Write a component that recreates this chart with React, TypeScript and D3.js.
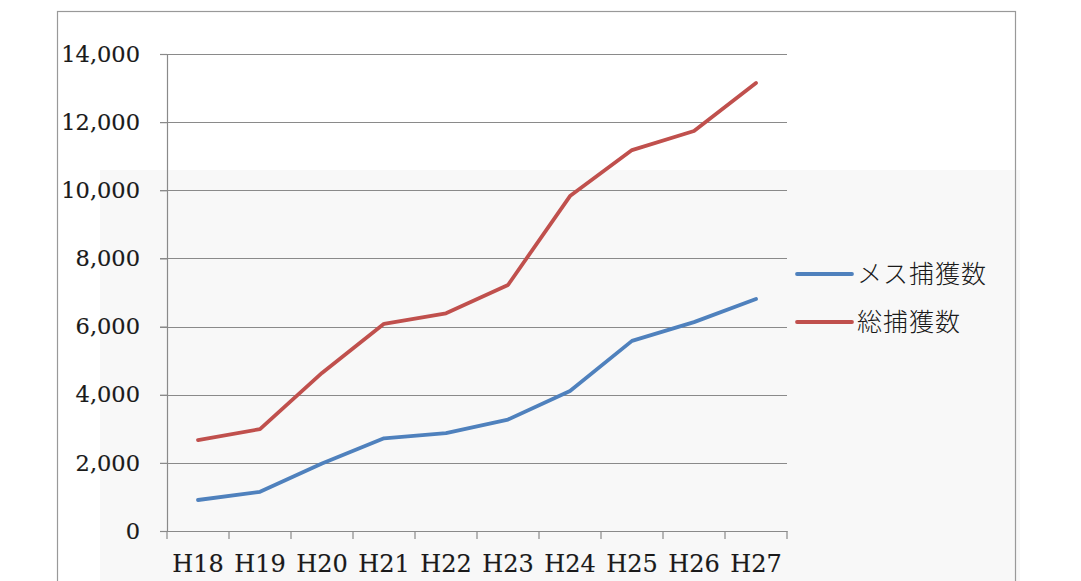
import * as d3 from "d3";
import React, { useEffect, useRef } from "react";

const width = 1081;
const height = 581;

// fiscal years (Heisei)
const years = ["H18", "H19", "H20", "H21", "H22", "H23", "H24", "H25", "H26", "H27"];
// female catch count
const femaleCatch = [910, 1150, 1980, 2720, 2870, 3270, 4110, 5580, 6130, 6810];
// total catch count
const totalCatch = [2670, 2990, 4640, 6080, 6390, 7220, 9830, 11180, 11740, 13150];
const yTicks = [0, 2000, 4000, 6000, 8000, 10000, 12000, 14000];

const seriesNames = ["メス捕獲数", "総捕獲数"];
const seriesColors = ["#4f81bd", "#c0504d"];

export default function App() {
  const holderRef = useRef<SVGSVGElement | null>(null);

  useEffect(() => {
    const svgEl = holderRef.current;
    if (!svgEl) return;
    const svg = d3.select(svgEl);
    svg.selectAll("*").remove();

    const left = 167;
    const right = 787;
    const top = 54;
    const bottom = 531;

    const x = d3.scaleBand().domain(years).range([left, right]);
    const y = d3.scaleLinear().domain([0, 14000]).range([bottom, top]);

    // paper tone where the show-through sits
    svg
      .append("rect")
      .attr("x", 100)
      .attr("y", 170)
      .attr("width", 920)
      .attr("height", height - 170)
      .attr("fill", "#f8f8f8");

    // chart frame
    svg
      .append("rect")
      .attr("x", 57.5)
      .attr("y", 11.5)
      .attr("width", 1015 - 57)
      .attr("height", height)
      .attr("fill", "none")
      .attr("stroke", "#999")
      .attr("stroke-width", 1.2);

    // gridlines
    svg
      .append("g")
      .selectAll("line")
      .data(yTicks.slice(1))
      .join("line")
      .attr("x1", left - 7)
      .attr("x2", right)
      .attr("y1", (d) => Math.round(y(d)) + 0.5)
      .attr("y2", (d) => Math.round(y(d)) + 0.5)
      .attr("stroke", "#8a8a8a")
      .attr("stroke-width", 1.2);

    // y axis
    const yAxis = svg
      .append("g")
      .attr("transform", `translate(${left},0)`)
      .call(
        d3
          .axisLeft(y)
          .tickValues(yTicks)
          .tickSize(7)
          .tickPadding(20)
          .tickFormat((d) => d3.format(",")(d as number))
      );
    yAxis.select(".domain").attr("stroke", "#8a8a8a").attr("stroke-width", 1.2);
    yAxis.selectAll(".tick line").attr("stroke", "#8a8a8a").attr("stroke-width", 1.2);
    yAxis
      .selectAll(".tick text")
      .attr("fill", "#1a1a1a")
      .attr("stroke", "#1a1a1a")
      .attr("stroke-width", 0.15)
      .attr("font-family", "'DejaVu Serif', serif")
      .attr("font-size", 22.5);

    // x axis
    const xAxis = svg
      .append("g")
      .attr("transform", `translate(0,${bottom})`)
      .call(d3.axisBottom(x).tickSize(0).tickPadding(24));
    xAxis.select(".domain").attr("stroke", "#8a8a8a").attr("stroke-width", 1.2);
    xAxis
      .selectAll(".tick text")
      .attr("fill", "#1a1a1a")
      .attr("stroke", "#1a1a1a")
      .attr("stroke-width", 0.15)
      .attr("font-family", "'DejaVu Serif', serif")
      .attr("font-size", 24);

    // category boundary ticks
    const bounds = years.map((d) => x(d) as number).concat([right]);
    svg
      .append("g")
      .selectAll("line")
      .data(bounds)
      .join("line")
      .attr("x1", (d) => d)
      .attr("x2", (d) => d)
      .attr("y1", bottom)
      .attr("y2", bottom + 8)
      .attr("stroke", "#8a8a8a")
      .attr("stroke-width", 1.2);

    const line = d3
      .line<number>()
      .x((_, i) => (x(years[i]) as number) + x.bandwidth() / 2)
      .y((d) => y(d));

    [femaleCatch, totalCatch].forEach((values, i) => {
      svg
        .append("path")
        .datum(values)
        .attr("fill", "none")
        .attr("stroke", seriesColors[i])
        .attr("stroke-width", 3.8)
        .attr("stroke-linejoin", "round")
        .attr("stroke-linecap", "round")
        .attr("d", line);
    });

    // legend
    const legend = svg
      .append("g")
      .selectAll("g")
      .data(seriesNames)
      .join("g")
      .attr("transform", (_, i) => `translate(797,${274 + i * 48})`);
    legend
      .append("line")
      .attr("x1", 0)
      .attr("x2", 55)
      .attr("stroke", (_, i) => seriesColors[i])
      .attr("stroke-width", 3.8)
      .attr("stroke-linecap", "round");
    legend
      .append("text")
      .attr("x", 60)
      .attr("dy", "0.36em")
      .attr("font-family", "'Noto Sans CJK JP', sans-serif")
      .attr("font-weight", 300)
      .attr("font-size", 25)
      .attr("letter-spacing", 1)
      .attr("fill", "#1a1a1a")
      .text((d) => d);
  }, []);

  return (
    <svg
      ref={holderRef}
      width={width}
      height={height}
      style={{ position: "absolute", left: 0, top: 0, background: "#fff" }}
    />
  );
}
